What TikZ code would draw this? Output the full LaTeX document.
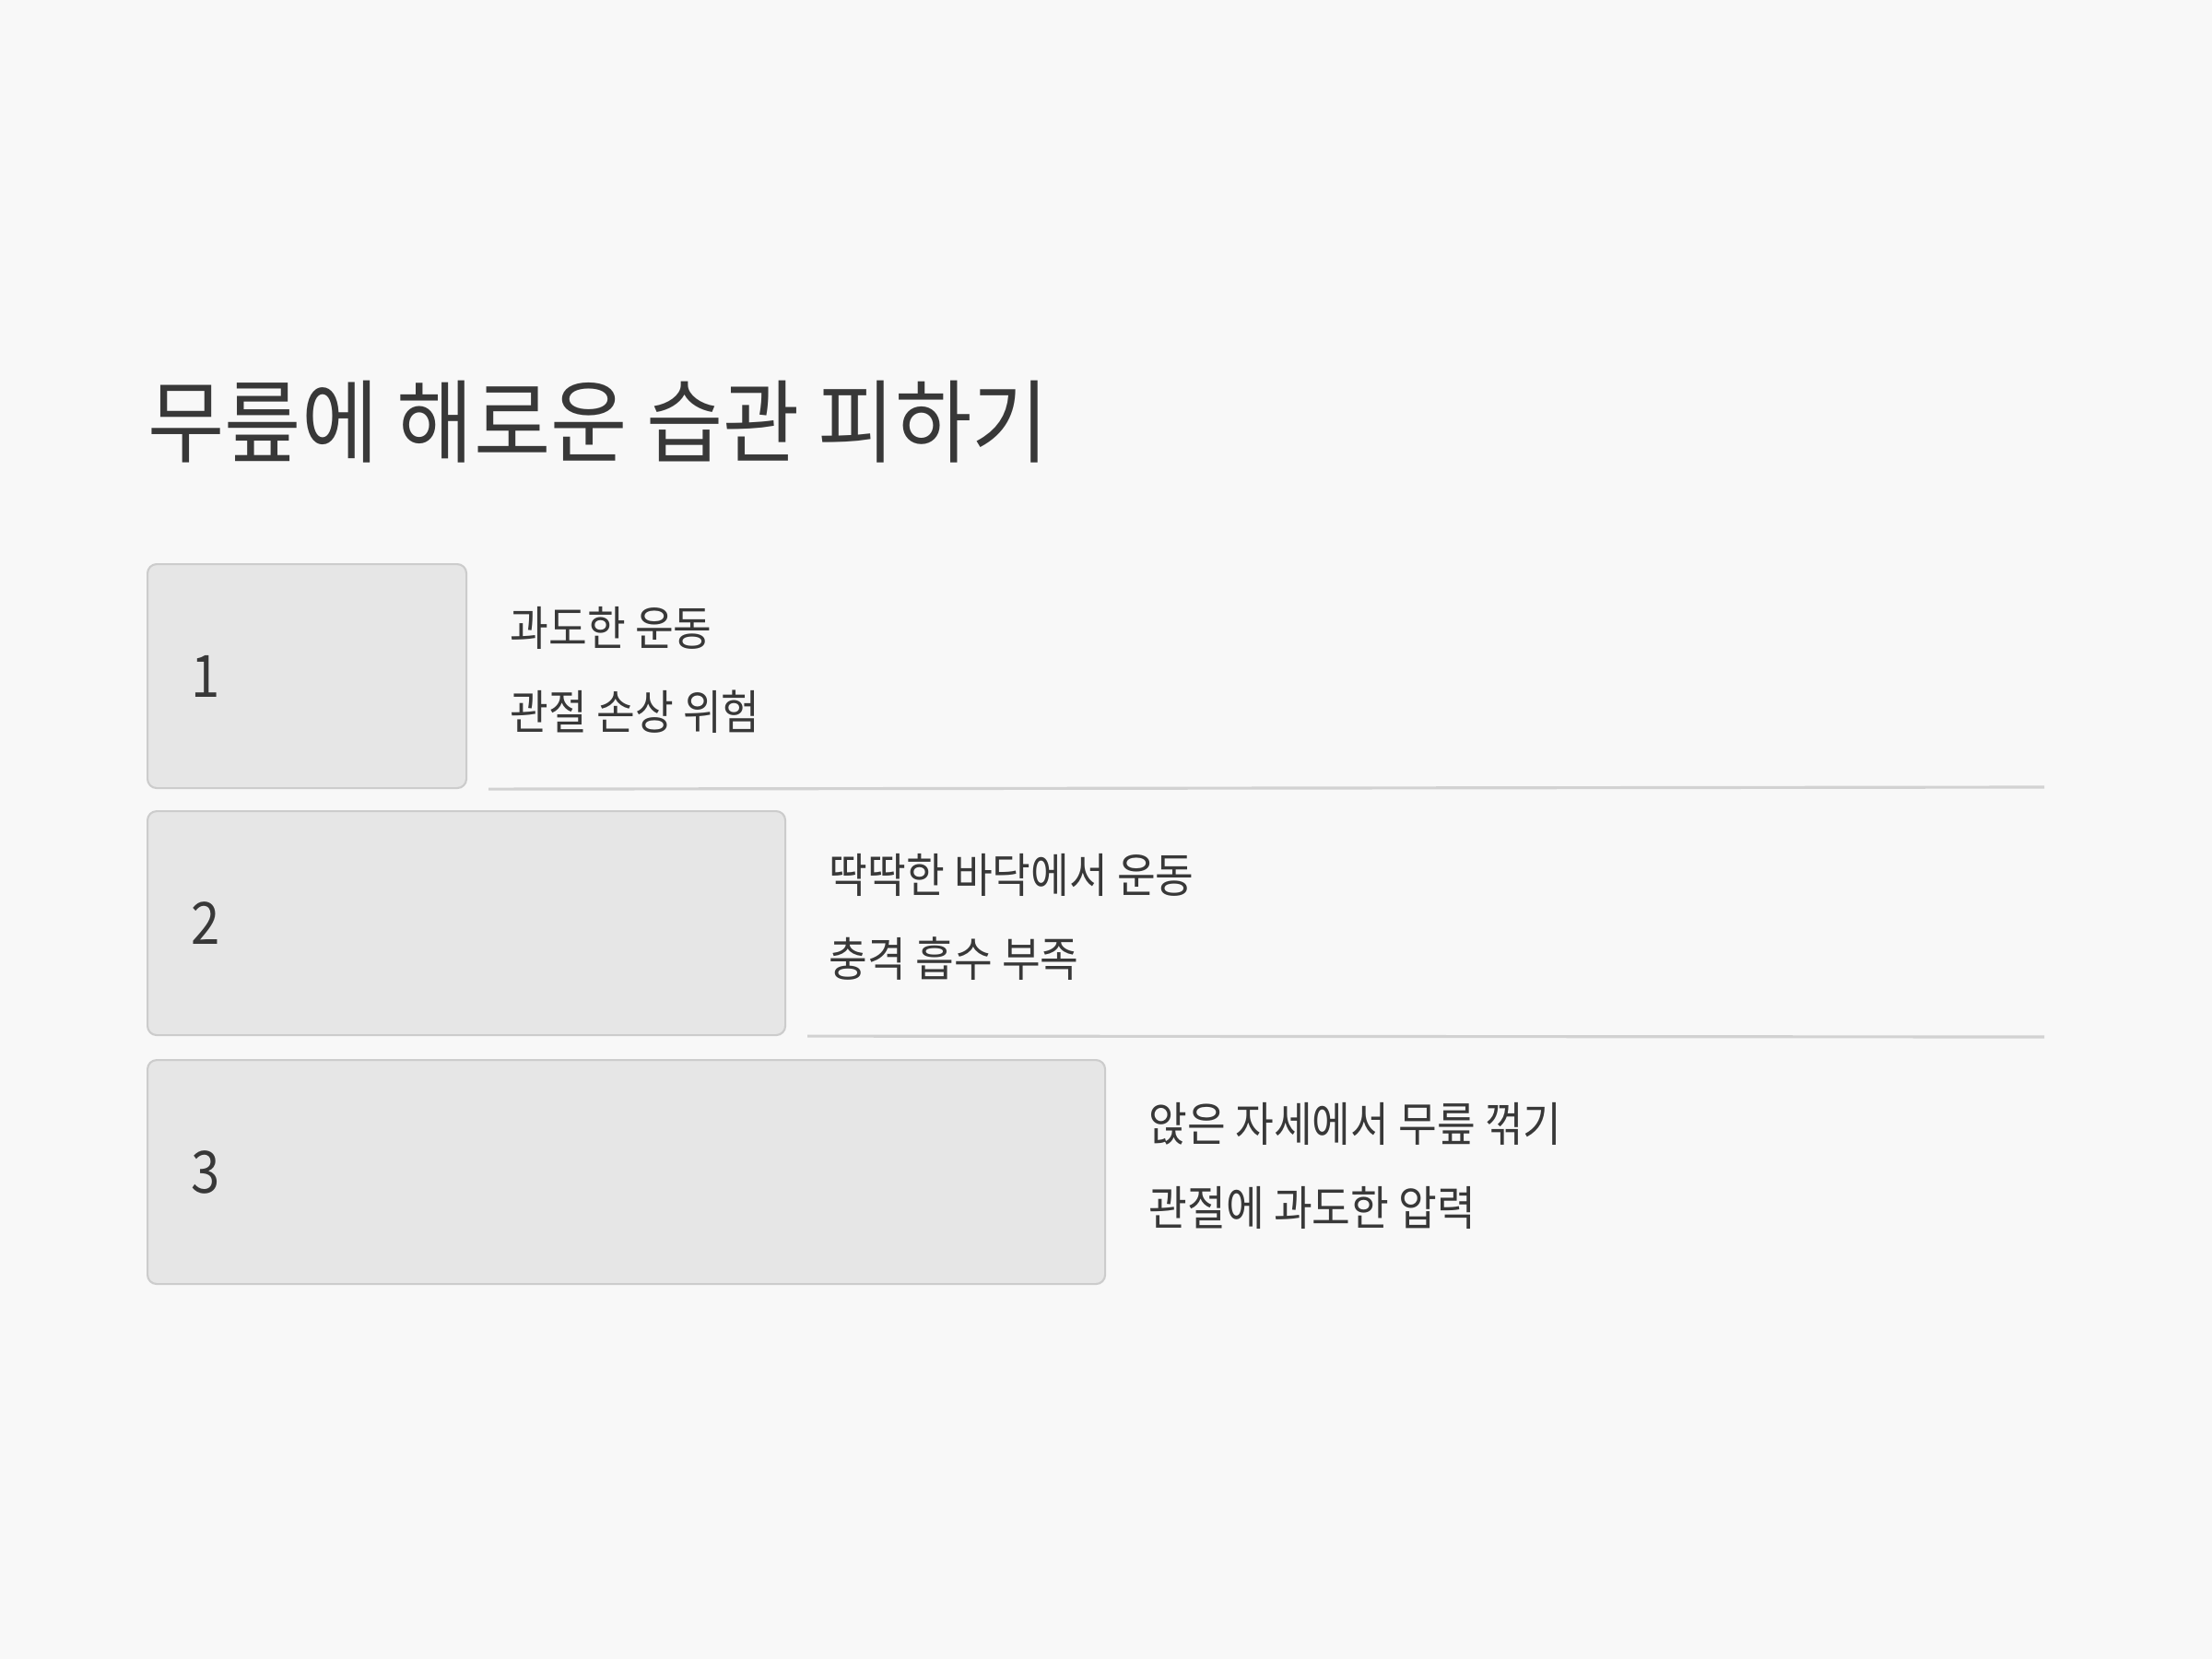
\documentclass[tikz,border=0pt]{standalone}
\usepackage{fontspec}
\setmainfont{Noto Sans CJK KR}[FakeStretch=0.89]
\newfontfamily\titlefont{Noto Sans CJK KR}[FakeStretch=0.92]
\usetikzlibrary{positioning}
\definecolor{pagebg}{HTML}{F8F8F8}
\definecolor{boxfill}{HTML}{E6E6E6}
\definecolor{boxline}{HTML}{CCCCCC}
\definecolor{sepline}{HTML}{D2D2D2}
\definecolor{ink}{HTML}{383838}
\tikzset{
  numbox/.style={draw=boxline, line width=0.6pt, fill=boxfill, rounded corners=0.1cm,
    minimum height=2.43cm, inner sep=0pt, anchor=north west},
  numtext/.style={text=ink, font=\fontsize{18}{20}\selectfont, inner sep=0pt, anchor=west},
  desc/.style={text=ink, font=\fontsize{14.5}{16}\selectfont, inner sep=0pt, anchor=west},
  sep/.style={draw=sepline, line width=0.9pt}
}
\begin{document}
\begin{tikzpicture}
  \fill[pagebg] (0,0) rectangle (24,18);
  \useasboundingbox (0,0) rectangle (24,18);
  \node[text=ink, font=\titlefont\fontsize{28}{32}\selectfont, inner sep=0pt, anchor=west] (title) at (1.6,13.42) {무릎에 해로운 습관 피하기};
  \node[numbox, minimum width=3.46cm] (box1) at (1.59,11.89) {};
  \node[numbox, minimum width=6.92cm] (box2) at (1.59,9.21) {};
  \node[numbox, minimum width=10.39cm] (box3) at (1.59,6.51) {};
  \node[numtext] (num1) at ([xshift=0.48cm]box1.west) {1};
  \node[numtext] (num2) at ([xshift=0.48cm]box2.west) {2};
  \node[numtext] (num3) at ([xshift=0.48cm]box3.west) {3};
  \node[desc] (head1) at ([xshift=0.46cm, yshift=0.52cm]box1.east) {과도한 운동};
  \node[desc] (note1) at ([xshift=0.46cm, yshift=-0.39cm]box1.east) {관절 손상 위험};
  \node[desc] (head2) at ([xshift=0.46cm, yshift=0.52cm]box2.east) {딱딱한 바닥에서 운동};
  \node[desc] (note2) at ([xshift=0.46cm, yshift=-0.39cm]box2.east) {충격 흡수 부족};
  \node[desc] (head3) at ([xshift=0.46cm, yshift=0.52cm]box3.east) {앉은 자세에서 무릎 꺾기};
  \node[desc] (note3) at ([xshift=0.46cm, yshift=-0.39cm]box3.east) {관절에 과도한 압력};
  \coordinate (end1) at (22.18,9.46);
  \coordinate (end2) at (22.18,6.75);
  \begin{scope}[sep]
    \draw ([xshift=0.23cm]box1.south east) -- (end1);
    \draw ([xshift=0.23cm]box2.south east) -- (end2);
  \end{scope}
\end{tikzpicture}
\end{document}
